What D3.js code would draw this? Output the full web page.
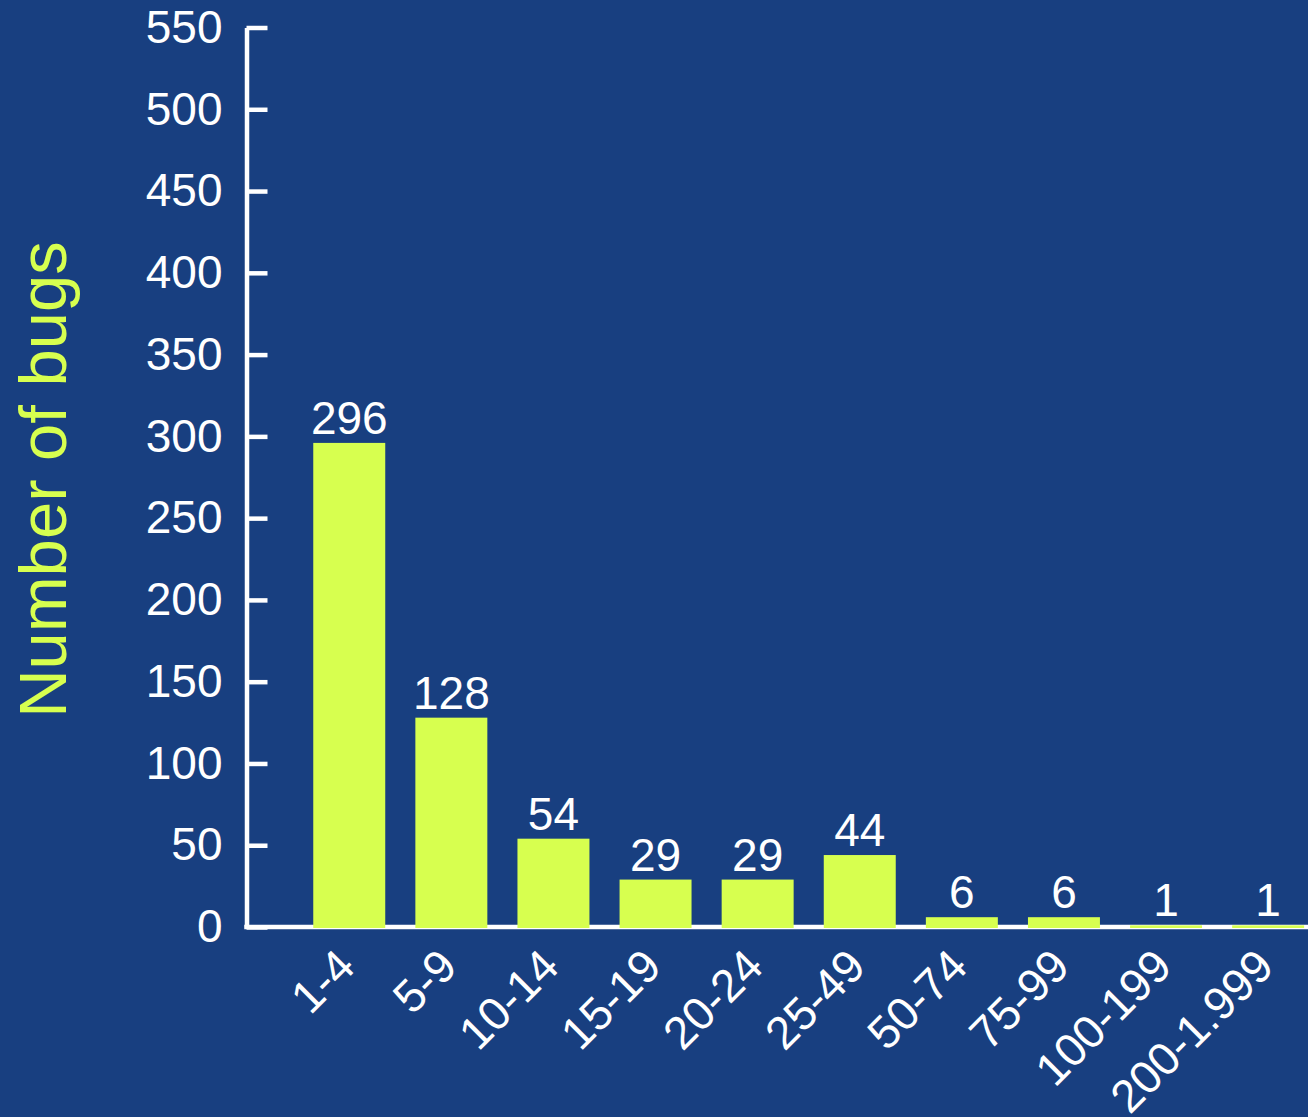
<!DOCTYPE html>
<html>
<head>
<meta charset="utf-8">
<script src="https://cdn.jsdelivr.net/npm/d3@7"></script>
<style>
  html, body { margin: 0; padding: 0; background: #183f80; }
  svg { display: block; }
  text { font-family: "Liberation Sans", Arial, Helvetica, sans-serif; }
</style>
</head>
<body>
<svg id="chart" width="1308" height="1117"></svg>
<script>
const categories = ["1-4", "5-9", "10-14", "15-19", "20-24", "25-49", "50-74", "75-99", "100-199", "200-1.999"];
const bugCounts = [296, 128, 54, 29, 29, 44, 6, 6, 1, 1];
const yTicks = [0, 50, 100, 150, 200, 250, 300, 350, 400, 450, 500, 550];
const yTitle = "Number of bugs";

const W = 1308, H = 1117;
const BG = "#183f80", BAR = "#d7ff4f", FG = "#ffffff";

const svg = d3.select("#chart");
svg.append("rect").attr("width", W).attr("height", H).attr("fill", BG);

const axisX = 246.5;
const y = d3.scaleLinear().domain([0, 550]).range([927, 27.5]);
const x = d3.scaleBand().domain(categories).range([298.2, 1319.2])
  .paddingInner(0.295).paddingOuter(0.1475);

// Y axis
const yAxis = d3.axisLeft(y).tickValues(yTicks).tickSizeInner(-21).tickSizeOuter(0).tickPadding(24);
const gy = svg.append("g").attr("transform", `translate(${axisX},0)`).call(yAxis);
gy.select(".domain").attr("stroke", FG).attr("stroke-width", 4.5);
gy.selectAll(".tick line").attr("stroke", FG).attr("stroke-width", 4.5);
gy.selectAll(".tick text").attr("fill", FG).attr("font-size", 46)
  .attr("font-family", "'Liberation Sans', Arial, Helvetica, sans-serif");
gy.attr("font-size", 46);

// X axis baseline
svg.append("line")
  .attr("x1", axisX - 2.25).attr("x2", W)
  .attr("y1", y(0)).attr("y2", y(0))
  .attr("stroke", FG).attr("stroke-width", 4.5);

// X tick labels (rotated)
svg.append("g").selectAll("text").data(categories).join("text")
  .attr("transform", d => `translate(${x(d) + x.bandwidth() / 2 + 8},969) rotate(-45)`)
  .attr("text-anchor", "end")
  .attr("fill", FG).attr("font-size", 46)
  .text(d => d);

// Bars
svg.append("g").selectAll("rect").data(categories).join("rect")
  .attr("x", d => x(d))
  .attr("width", x.bandwidth())
  .attr("y", (d, i) => y(bugCounts[i]))
  .attr("height", (d, i) => y(0) - y(bugCounts[i]) + 1)
  .attr("fill", BAR);

// Value labels
svg.append("g").selectAll("text").data(categories).join("text")
  .attr("x", d => x(d) + x.bandwidth() / 2)
  .attr("y", (d, i) => y(bugCounts[i]) - 9)
  .attr("text-anchor", "middle")
  .attr("fill", FG).attr("font-size", 46)
  .text((d, i) => bugCounts[i]);

// Y title
svg.append("text")
  .attr("transform", "translate(66,479.5) rotate(-90)")
  .attr("text-anchor", "middle")
  .attr("fill", BAR).attr("font-size", 67)
  .text(yTitle);
</script>
</body>
</html>
